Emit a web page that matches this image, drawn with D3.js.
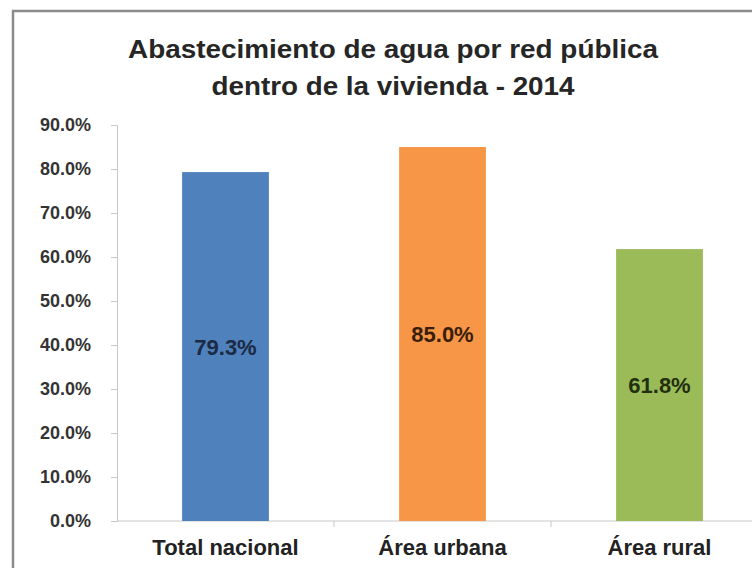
<!DOCTYPE html>
<html lang="es">
<head>
<meta charset="UTF-8">
<title>Abastecimiento de agua</title>
<script src="https://cdn.jsdelivr.net/npm/d3@7"></script>
<style>
  body { margin: 0; background: #fff; }
  svg { display: block; font-family: "Liberation Sans", Arial, sans-serif; }
</style>
</head>
<body>
<script>

var categories = ["Total nacional", "Área urbana", "Área rural"];
var values = [79.3, 85.0, 61.8];
var colors = ["#4f81bd", "#f79646", "#9bbb59"];
var labelColors = ["#1c2a44", "#3a1e0c", "#22300f"];
var yTicks = [0, 10, 20, 30, 40, 50, 60, 70, 80, 90];
var titleLines = ["Abastecimiento de agua por red pública", "dentro de la vivienda - 2014"];

var w = 752, h = 568;
var margin = { left: 117, right: 768, top: 125, bottom: 521 };

var svg = d3.select("body").append("svg")
    .attr("width", w)
    .attr("height", h);

svg.append("rect").attr("width", w).attr("height", h).attr("fill", "#fff");

// frame (cut off at right and bottom)
svg.append("path")
    .attr("d", "M13," + h + " V11 H" + w)
    .attr("fill", "none")
    .attr("stroke", "#8c8c8c")
    .attr("stroke-width", 2.5);

// title
svg.selectAll(".title")
    .data(titleLines)
    .enter().append("text")
    .attr("x", 393)
    .attr("y", function(d, i) { return 58 + i * 37; })
    .attr("text-anchor", "middle")
    .attr("font-size", 26)
    .attr("font-weight", "bold")
    .attr("fill", "#262626")
    .attr("textLength", function(d, i) { return i == 0 ? 530 : 363; })
    .attr("lengthAdjust", "spacingAndGlyphs")
    .text(function(d) { return d; });

var x = d3.scaleBand().domain(categories)
    .range([margin.left, margin.right])
    .paddingInner(0.6).paddingOuter(0.3);
var y = d3.scaleLinear().domain([0, 90]).range([margin.bottom, margin.top]);

// y axis
var yAxis = svg.append("g")
    .attr("transform", "translate(" + margin.left + ",0)")
    .call(d3.axisLeft(y).tickValues(yTicks).tickSize(6).tickPadding(20)
        .tickFormat(function(d) { return d.toFixed(1) + "%"; }));
yAxis.select(".domain").attr("stroke", "#c8c8c8");
yAxis.selectAll(".tick line").attr("stroke", "#c8c8c8");
yAxis.selectAll("text")
    .attr("font-size", 18)
    .attr("font-weight", "bold")
    .attr("fill", "#333")
    .attr("font-family", "Liberation Sans, Arial, sans-serif");

// x axis line + category separators
svg.append("line")
    .attr("x1", margin.left).attr("x2", w)
    .attr("y1", margin.bottom).attr("y2", margin.bottom)
    .attr("stroke", "#c8c8c8");
svg.selectAll(".sep")
    .data(categories.slice(1))
    .enter().append("line")
    .attr("x1", function(d) { return x(d) - x.step() * x.paddingInner() / 2; })
    .attr("x2", function(d) { return x(d) - x.step() * x.paddingInner() / 2; })
    .attr("y1", margin.bottom).attr("y2", margin.bottom + 6)
    .attr("stroke", "#c8c8c8");

// bars
svg.selectAll(".bar")
    .data(values)
    .enter().append("rect")
    .attr("x", function(d, i) { return x(categories[i]); })
    .attr("y", function(d) { return y(d); })
    .attr("width", x.bandwidth())
    .attr("height", function(d) { return margin.bottom - y(d); })
    .attr("fill", function(d, i) { return colors[i]; });

// value labels, centred in the bar
svg.selectAll(".val")
    .data(values)
    .enter().append("text")
    .attr("x", function(d, i) { return x(categories[i]) + x.bandwidth() / 2; })
    .attr("y", function(d) { return (y(d) + margin.bottom) / 2 + 8; })
    .attr("text-anchor", "middle")
    .attr("font-size", 22)
    .attr("font-weight", "bold")
    .attr("fill", function(d, i) { return labelColors[i]; })
    .text(function(d) { return d.toFixed(1) + "%"; });

// category labels
svg.selectAll(".cat")
    .data(categories)
    .enter().append("text")
    .attr("x", function(d) { return x(d) + x.bandwidth() / 2; })
    .attr("y", 555)
    .attr("text-anchor", "middle")
    .attr("font-size", 22)
    .attr("font-weight", "bold")
    .attr("fill", "#222")
    .text(function(d) { return d; });

</script>
</body>
</html>
